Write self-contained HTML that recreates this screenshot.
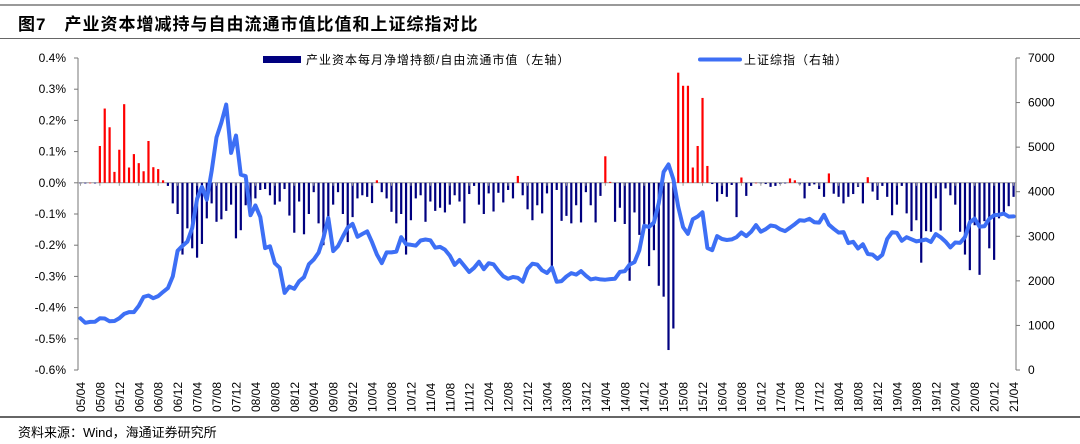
<!DOCTYPE html>
<html><head><meta charset="utf-8">
<style>
html,body{margin:0;padding:0;background:#fff;}
body{width:1080px;height:444px;overflow:hidden;position:relative;font-family:"Liberation Sans","Noto Sans CJK SC",sans-serif;}
.title{position:absolute;left:18px;top:10px;font-size:17px;font-weight:bold;color:#000;letter-spacing:1px;font-family:"Liberation Sans","Noto Sans CJK SC",sans-serif;}
.src{position:absolute;left:18px;top:422px;font-size:13px;color:#000;}
.hr{position:absolute;left:0;width:1080px;}
</style></head><body>
<div class="hr" style="top:4px;height:2px;background:#999;"></div>
<div class="title">图7　产业资本增减持与自由流通市值比值和上证综指对比</div>
<div class="hr" style="top:38px;height:1px;background:#666;"></div>
<svg id="chart" width="1080" height="444" style="position:absolute;left:0;top:0"></svg>
<div class="hr" style="top:416px;height:2px;background:#666;"></div>
<div class="src">资料来源：Wind，海通证券研究所</div>
<script>
const startYear = 2005, startMonth = 4;
const barValues = [
-0.002,-0.002,0,-0.002,
0.118,0.238,0.178,0.035,0.106,0.252,0.049,0.092,0.063,0.037,0.134,0.05,0.044,0.008,
-0.01,-0.066,-0.10,-0.23,-0.146,-0.21,-0.24,-0.196,-0.114,-0.066,-0.125,-0.117,-0.09,-0.07,-0.178,-0.152,-0.072,-0.08,-0.05,-0.023,-0.02,-0.04,-0.07,-0.06,-0.02,-0.105,-0.16,-0.06,-0.165,-0.1,-0.03,-0.13,-0.2,-0.115,-0.07,-0.03,-0.1,-0.19,-0.11,-0.05,-0.04,-0.045,-0.065,0.008,-0.03,-0.05,
-0.093,-0.13,-0.10,-0.23,-0.12,-0.05,-0.04,-0.125,-0.06,-0.09,-0.08,-0.095,-0.07,-0.04,-0.06,-0.13,-0.036,-0.01,-0.07,-0.1,-0.034,-0.092,-0.032,-0.063,-0.023,-0.05,0.022,-0.04,-0.085,-0.12,-0.072,-0.098,-0.034,-0.27,-0.023,-0.122,-0.106,-0.13,-0.072,-0.127,-0.03,-0.072,-0.127,-0.042,0.085,0.003,-0.125,-0.08,-0.132,-0.314,-0.095,-0.167,-0.146,-0.267,-0.216,-0.33,-0.365,-0.536,-0.467,0.353,0.311,0.311,0.049,0.118,0.272,0.054,
-0.004,-0.06,-0.036,-0.045,-0.007,-0.11,0.017,-0.042,-0.01,0,-0.002,-0.004,-0.013,-0.01,-0.004,-0.002,0.014,0.008,-0.005,-0.05,-0.01,-0.005,-0.02,-0.045,0.03,-0.035,-0.045,-0.066,-0.045,-0.036,-0.013,-0.066,0.018,-0.028,-0.055,-0.01,-0.045,-0.104,-0.07,-0.01,-0.098,-0.155,-0.12,-0.256,-0.155,-0.157,-0.05,-0.153,-0.018,-0.04,-0.07,-0.157,-0.23,-0.28,-0.136,-0.295,-0.123,-0.21,-0.247,-0.114,-0.1,-0.075,-0.045
];
const indexValues = [
1160,1060,1080,1083,1162,1155,1092,1099,1161,
1258,1299,1298,1440,1641,1672,1612,1658,1752,1837,2099,2675,
2786,2881,3183,3841,4109,3820,4471,5218,5552,5955,4871,5262,
4383,4348,3473,3693,3433,2736,2775,2397,2293,1729,1871,1821,
1991,2082,2373,2477,2633,2959,3412,2667,2779,2996,3195,3277,
2989,3051,3109,2870,2592,2398,2638,2638,2656,2979,2820,2808,
2790,2905,2928,2911,2743,2762,2701,2567,2359,2468,2333,2199,
2292,2428,2262,2396,2372,2225,2103,2047,2086,2069,1980,2269,
2385,2365,2237,2177,2300,1979,1994,2098,2175,2141,2220,2116,
2033,2056,2033,2026,2039,2048,2202,2217,2364,2420,2683,3235,
3210,3310,3748,4442,4612,4277,3664,3206,3053,3383,3445,3539,
2738,2688,3004,2938,2917,2930,2979,3085,3005,3100,3250,3104,
3159,3242,3223,3155,3117,3192,3273,3361,3349,3393,3317,3307,
3481,3259,3169,3082,3095,2847,2876,2725,2821,2603,2588,2494,
2585,2941,3091,3078,2899,2979,2932,2886,2905,2929,2872,3050,
2977,2880,2750,2860,2852,2985,3310,3396,3218,3225,3392,3473,
3483,3509,3441,3447
];
const leftTicks = [0.4,0.3,0.2,0.1,0.0,-0.1,-0.2,-0.3,-0.4,-0.5,-0.6];
const rightTicks = [7000,6000,5000,4000,3000,2000,1000,0];

const NS = "http://www.w3.org/2000/svg";
const svg = document.getElementById('chart');
const X0 = 78, X1 = 1016, YT = 58, YB = 370;
const N = barValues.length;
const step = (X1 - X0) / N;
function xc(i){ return X0 + (i + 0.5) * step; }
function yL(v){ return YT + (0.4 - v) / 1.0 * (YB - YT); }
function yR(v){ return YB - v / 7000 * (YB - YT); }
function mk(tag, attrs, parent){
  const e = document.createElementNS(NS, tag);
  for (const k in attrs) e.setAttribute(k, attrs[k]);
  (parent || svg).appendChild(e);
  return e;
}
function lbl(i){
  const m = startMonth - 1 + i;
  const y = startYear + Math.floor(m / 12), mo = m % 12 + 1;
  return String(y % 100).padStart(2,'0') + '/' + String(mo).padStart(2,'0');
}
// axes
let a = mk('line',{x1:X0,y1:YT,x2:X0,y2:YB,stroke:'#777','stroke-width':1});


a = mk('line',{x1:X1,y1:YT,x2:X1,y2:YB,stroke:'#777','stroke-width':1});


leftTicks.forEach(v=>{
  const y = yL(v);
  mk('line',{x1:X0-4,y1:y,x2:X0,y2:y,stroke:'#777'});
  const t = mk('text',{x:X0-12,y:y+4,'text-anchor':'end','font-size':12,fill:'#000','font-family':'Liberation Sans, sans-serif'});
  t.textContent = v.toFixed(1) + '%';
  
  
});
rightTicks.forEach(v=>{
  const y = yR(v);
  mk('line',{x1:X1,y1:y,x2:X1+4,y2:y,stroke:'#777'});
  const t = mk('text',{x:X1+12,y:y+4,'text-anchor':'start','font-size':12,fill:'#000','font-family':'Liberation Sans, sans-serif'});
  t.textContent = v;
  
  
});
// zero line
const y0 = yL(0);
a = mk('line',{x1:X0,y1:y0,x2:X1,y2:y0,stroke:'#999','stroke-width':1});


// bars
barValues.forEach((v,i)=>{
  const y = yL(v);
  const r = mk('rect',{x:xc(i)-1.1,y:Math.min(y,y0),width:2.2,height:Math.max(0.5,Math.abs(y-y0)),fill:v>=0?'#ff0000':'#00007f'});
  
  
});
// x ticks/labels
for (let i=0;i<N;i+=4){
  const x = xc(i);
  mk('line',{x1:x,y1:y0,x2:x,y2:y0+3,stroke:'#999'});
  const t = mk('text',{x:0,y:0,transform:`translate(${x+4.5},${YB+42}) rotate(-90)`,'font-size':12,fill:'#000','font-family':'Liberation Sans, sans-serif'});
  t.textContent = lbl(i);
  
  
}
// line
let d = '';
indexValues.forEach((v,i)=>{ d += (i?'L':'M') + xc(i).toFixed(1) + ',' + yR(v).toFixed(1); });
const p = mk('path',{d:d,fill:'none',stroke:'#3d6ff5','stroke-width':4,'stroke-linejoin':'round','stroke-linecap':'round'});


// legend
let g = mk('g',{});


mk('rect',{x:263,y:56,width:38,height:7,fill:'#00007f'},g);
let t = mk('text',{x:306,y:64,'font-size':12,fill:'#000','font-family':'Liberation Sans, Noto Sans CJK SC, sans-serif','letter-spacing':'1'},g);
t.textContent = '产业资本每月净增持额/自由流通市值（左轴）';
g = mk('g',{});


mk('line',{x1:700,y1:59.5,x2:740,y2:59.5,stroke:'#3d6ff5','stroke-width':4,'stroke-linecap':'round'},g);
t = mk('text',{x:744,y:64,'font-size':12,fill:'#000','font-family':'Liberation Sans, Noto Sans CJK SC, sans-serif','letter-spacing':'1'},g);
t.textContent = '上证综指（右轴）';
</script>
</body></html>
